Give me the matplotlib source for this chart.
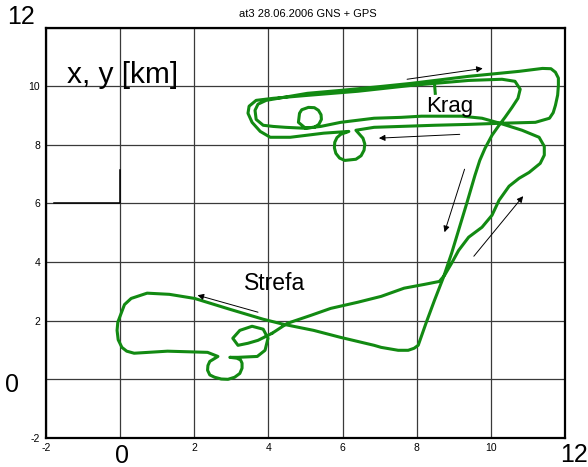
import matplotlib.pyplot as plt

plt.rcParams['font.family'] = ['Liberation Sans', 'DejaVu Sans']
plt.rcParams['axes.unicode_minus'] = False

# flight track (km)
track_x = [4.10, 4.51, 5.14, 5.68, 6.41, 7.04, 7.66, 8.21, 8.61, 8.75,
           8.94, 9.13, 9.40, 9.76, 10.03, 10.22, 10.49, 10.76, 11.03, 11.33,
           11.44, 11.44, 11.30, 10.84, 10.24, 9.76, 9.21, 8.13, 7.58, 6.85,
           5.95, 5.41, 5.00, 4.81, 4.84, 4.90, 5.08, 5.24, 5.35, 5.42,
           5.43, 5.36, 5.24, 4.95, 4.46, 4.13, 3.86, 3.67, 3.64, 3.72,
           3.94, 4.59, 5.05, 5.95, 6.85, 7.85, 9.40, 10.76, 11.39, 11.62,
           11.74, 11.82, 11.82, 11.80, 11.74, 11.68, 11.58, 11.20, 10.30, 9.40,
           8.48, 7.58, 6.85, 6.36, 6.55, 6.60, 6.58, 6.50, 6.36, 6.06,
           5.92, 5.82, 5.78, 5.79, 5.85, 5.95, 6.17, 5.49, 4.59, 4.05,
           3.78, 3.56, 3.45, 3.48, 3.67, 4.13, 5.05, 6.41, 7.85, 9.40,
           10.30, 10.65, 10.79, 10.73, 10.57, 10.38, 10.22, 10.03, 9.84, 9.70,
           9.57, 9.35, 9.13, 8.94, 8.72, 8.48, 8.26, 8.04, 7.93, 7.77,
           7.50, 7.04, 6.85, 5.95, 5.22, 4.40, 3.86, 2.96, 2.01, 1.33,
           0.73, 0.30, 0.12, 0.03, -0.06, -0.08, -0.05, 0.05, 0.18, 0.38,
           1.28, 2.36, 2.64, 2.42, 2.37, 2.36, 2.42, 2.55, 2.73, 2.91,
           3.09, 3.23, 3.29, 3.29, 3.25, 3.15, 2.96, 3.18, 3.70, 3.91,
           3.99, 3.86, 3.56, 3.23, 3.04, 3.18, 3.45, 3.72, 4.10]
track_y = [1.57, 1.91, 2.18, 2.42, 2.63, 2.83, 3.11, 3.24, 3.34, 3.55,
           3.96, 4.40, 4.85, 5.19, 5.60, 6.11, 6.59, 6.86, 7.06, 7.37,
           7.65, 7.95, 8.26, 8.50, 8.74, 8.91, 8.98, 8.98, 8.94, 8.91,
           8.77, 8.63, 8.57, 8.77, 9.08, 9.20, 9.28, 9.27, 9.18, 9.03,
           8.87, 8.70, 8.60, 8.57, 8.60, 8.63, 8.67, 8.87, 9.18, 9.39,
           9.52, 9.66, 9.76, 9.86, 9.97, 10.10, 10.34, 10.51, 10.61, 10.60,
           10.48, 10.28, 10.03, 9.70, 9.35, 9.10, 8.91, 8.77, 8.74, 8.70,
           8.67, 8.63, 8.60, 8.50, 8.23, 8.03, 7.82, 7.63, 7.51, 7.47,
           7.55, 7.71, 7.90, 8.09, 8.25, 8.36, 8.46, 8.40, 8.26, 8.26,
           8.46, 8.77, 9.08, 9.32, 9.52, 9.59, 9.69, 9.83, 10.03, 10.20,
           10.24, 10.17, 9.90, 9.59, 9.28, 8.94, 8.67, 8.33, 7.88, 7.47,
           6.96, 6.01, 5.09, 4.30, 3.48, 2.70, 1.95, 1.16, 1.06, 0.99,
           0.99, 1.09, 1.16, 1.43, 1.67, 1.88, 2.05, 2.39, 2.76, 2.90,
           2.94, 2.76, 2.55, 2.25, 1.95, 1.67, 1.35, 1.09, 0.96, 0.89,
           0.96, 0.92, 0.78, 0.61, 0.47, 0.31, 0.15, 0.07, 0.01, 0.00,
           0.07, 0.20, 0.38, 0.55, 0.66, 0.72, 0.75, 0.75, 0.78, 0.99,
           1.40, 1.71, 1.81, 1.67, 1.40, 1.16, 1.23, 1.33, 1.57]

stub_x = [8.48, 8.50]
stub_y = [10.07, 9.76]

# black reference mark
mark_x = [-1.79, 0.0, 0.0]
mark_y = [6.01, 6.01, 7.13]

# direction arrows: (x_from, y_from, x_to, y_to)
arrows = [(7.74, 10.24, 9.78, 10.61),
          (9.16, 8.36, 6.98, 8.23),
          (9.29, 7.17, 8.75, 5.02),
          (9.54, 4.20, 10.87, 6.25),
          (3.72, 2.29, 2.09, 2.87)]

ticks = [-2, 0, 2, 4, 6, 8, 10, 12]
tick_labels = ['-2', '', '2', '4', '6', '8', '10', '']

fig = plt.figure(figsize=(5.88, 4.67), dpi=100)
ax = fig.add_axes([0.078, 0.0623, 0.883, 0.8784])

ax.plot(track_x, track_y, color='#128a12', lw=2.2,
        solid_joinstyle='round', solid_capstyle='round')
ax.plot(stub_x, stub_y, color='#128a12', lw=2.2)
ax.plot(mark_x, mark_y, color='black', lw=1.1)

for x0, y0, x1, y1 in arrows:
    ax.annotate('', xy=(x1, y1), xytext=(x0, y0),
                arrowprops=dict(arrowstyle='-|>', color='black', lw=0.7,
                                mutation_scale=9, shrinkA=0, shrinkB=0))

ax.text(-1.44, 10.10, 'x, y [km]', fontsize=21.5)
ax.text(8.26, 9.11, 'Krag', fontsize=16)
ax.text(3.34, 3.04, 'Strefa', fontsize=16.5)

ax.set_xlim(-2, 12)
ax.set_ylim(-2, 12)
ax.set_xticks(ticks)
ax.set_xticklabels(tick_labels)
ax.set_yticks(ticks)
ax.set_yticklabels(tick_labels)
ax.tick_params(length=0, labelsize=7.5, pad=4)
ax.grid(True, color='#3a3a3a', lw=0.9)
ax.set_axisbelow(True)
for s in ax.spines.values():
    s.set_linewidth(1.6)

fig.text(308 / 588, 1 - 14 / 467, 'at3 28.06.2006 GNS + GPS', fontsize=8,
         ha='center', va='center')
fig.text(21 / 588, 1 - 17 / 467, '12', fontsize=18, ha='center', va='center')
fig.text(12 / 588, 1 - 385 / 467, '0', fontsize=18, ha='center', va='center')
fig.text(122 / 588, 1 - 456 / 467, '0', fontsize=18, ha='center', va='center')
fig.text(574 / 588, 1 - 455 / 467, '12', fontsize=18, ha='center', va='center')

fig.savefig('out.png', dpi=100)
